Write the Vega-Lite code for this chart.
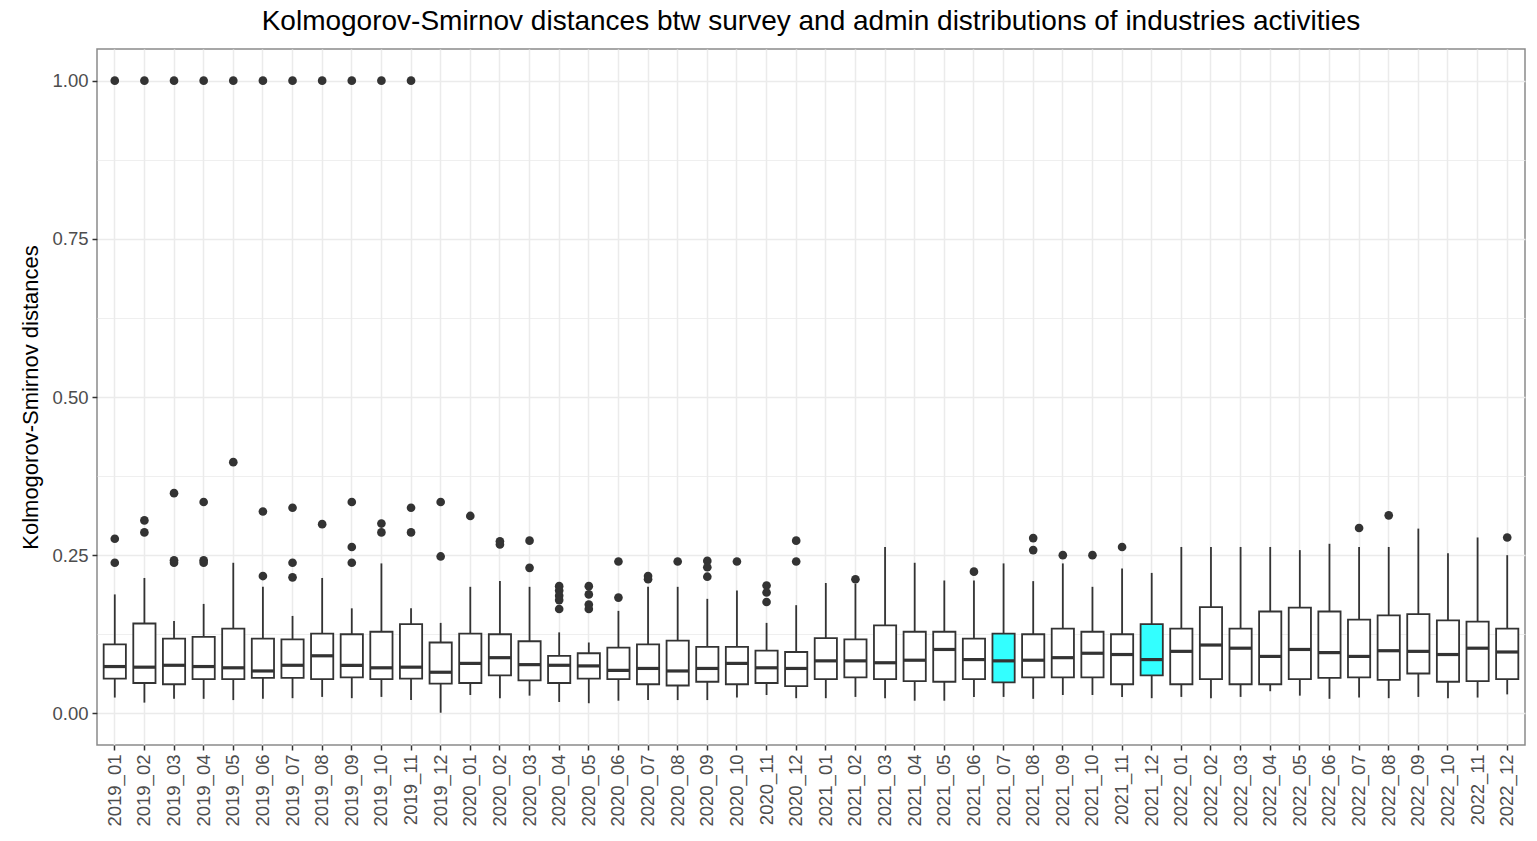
{
  "$schema": "https://vega.github.io/schema/vega-lite/v6.json",
  "width": 1428,
  "height": 696,
  "autosize": {"type": "none"},
  "padding": {"left": 97, "top": 49, "right": 12, "bottom": 96},
  "config": {
    "font": "Liberation Sans",
    "view": {"stroke": "#8a8a8a", "strokeWidth": 1.5},
    "axis": {"domain": false, "gridColor": "#ebebeb", "gridWidth": 1.5, "tickColor": "#333333", "tickWidth": 1.5, "tickSize": 5, "labelColor": "#4d4d4d", "labelFontSize": 18.5, "labelPadding": 4}
  },
  "title": {"text": "Kolmogorov-Smirnov distances btw survey and admin distributions of industries activities", "fontSize": 28, "fontWeight": "normal", "color": "#000000", "anchor": "middle", "offset": 13},
  "datasets": {
    "boxes": [
      {"month": "2019_01", "lo": 0.025, "q1": 0.055, "med": 0.074, "q3": 0.109, "hi": 0.188, "highlight": "no"},
      {"month": "2019_02", "lo": 0.017, "q1": 0.048, "med": 0.073, "q3": 0.142, "hi": 0.214, "highlight": "no"},
      {"month": "2019_03", "lo": 0.023, "q1": 0.046, "med": 0.076, "q3": 0.118, "hi": 0.146, "highlight": "no"},
      {"month": "2019_04", "lo": 0.023, "q1": 0.054, "med": 0.074, "q3": 0.121, "hi": 0.173, "highlight": "no"},
      {"month": "2019_05", "lo": 0.021, "q1": 0.054, "med": 0.072, "q3": 0.134, "hi": 0.238, "highlight": "no"},
      {"month": "2019_06", "lo": 0.023, "q1": 0.056, "med": 0.067, "q3": 0.118, "hi": 0.200, "highlight": "no"},
      {"month": "2019_07", "lo": 0.024, "q1": 0.056, "med": 0.076, "q3": 0.117, "hi": 0.154, "highlight": "no"},
      {"month": "2019_08", "lo": 0.026, "q1": 0.054, "med": 0.091, "q3": 0.126, "hi": 0.214, "highlight": "no"},
      {"month": "2019_09", "lo": 0.024, "q1": 0.057, "med": 0.076, "q3": 0.125, "hi": 0.166, "highlight": "no"},
      {"month": "2019_10", "lo": 0.026, "q1": 0.054, "med": 0.072, "q3": 0.129, "hi": 0.237, "highlight": "no"},
      {"month": "2019_11", "lo": 0.021, "q1": 0.055, "med": 0.073, "q3": 0.141, "hi": 0.166, "highlight": "no"},
      {"month": "2019_12", "lo": 0.001, "q1": 0.047, "med": 0.065, "q3": 0.112, "hi": 0.143, "highlight": "no"},
      {"month": "2020_01", "lo": 0.029, "q1": 0.048, "med": 0.079, "q3": 0.126, "hi": 0.200, "highlight": "no"},
      {"month": "2020_02", "lo": 0.024, "q1": 0.060, "med": 0.088, "q3": 0.125, "hi": 0.209, "highlight": "no"},
      {"month": "2020_03", "lo": 0.028, "q1": 0.052, "med": 0.077, "q3": 0.114, "hi": 0.200, "highlight": "no"},
      {"month": "2020_04", "lo": 0.018, "q1": 0.048, "med": 0.076, "q3": 0.091, "hi": 0.128, "highlight": "no"},
      {"month": "2020_05", "lo": 0.016, "q1": 0.055, "med": 0.075, "q3": 0.095, "hi": 0.112, "highlight": "no"},
      {"month": "2020_06", "lo": 0.020, "q1": 0.054, "med": 0.068, "q3": 0.104, "hi": 0.162, "highlight": "no"},
      {"month": "2020_07", "lo": 0.021, "q1": 0.046, "med": 0.071, "q3": 0.109, "hi": 0.200, "highlight": "no"},
      {"month": "2020_08", "lo": 0.021, "q1": 0.044, "med": 0.067, "q3": 0.115, "hi": 0.200, "highlight": "no"},
      {"month": "2020_09", "lo": 0.021, "q1": 0.050, "med": 0.071, "q3": 0.105, "hi": 0.181, "highlight": "no"},
      {"month": "2020_10", "lo": 0.025, "q1": 0.046, "med": 0.079, "q3": 0.105, "hi": 0.194, "highlight": "no"},
      {"month": "2020_11", "lo": 0.029, "q1": 0.048, "med": 0.072, "q3": 0.099, "hi": 0.143, "highlight": "no"},
      {"month": "2020_12", "lo": 0.024, "q1": 0.043, "med": 0.071, "q3": 0.097, "hi": 0.171, "highlight": "no"},
      {"month": "2021_01", "lo": 0.024, "q1": 0.054, "med": 0.083, "q3": 0.119, "hi": 0.206, "highlight": "no"},
      {"month": "2021_02", "lo": 0.026, "q1": 0.057, "med": 0.083, "q3": 0.117, "hi": 0.205, "highlight": "no"},
      {"month": "2021_03", "lo": 0.024, "q1": 0.054, "med": 0.080, "q3": 0.139, "hi": 0.263, "highlight": "no"},
      {"month": "2021_04", "lo": 0.020, "q1": 0.051, "med": 0.084, "q3": 0.129, "hi": 0.238, "highlight": "no"},
      {"month": "2021_05", "lo": 0.020, "q1": 0.050, "med": 0.101, "q3": 0.129, "hi": 0.210, "highlight": "no"},
      {"month": "2021_06", "lo": 0.026, "q1": 0.054, "med": 0.085, "q3": 0.118, "hi": 0.210, "highlight": "no"},
      {"month": "2021_07", "lo": 0.026, "q1": 0.049, "med": 0.083, "q3": 0.126, "hi": 0.237, "highlight": "yes"},
      {"month": "2021_08", "lo": 0.023, "q1": 0.057, "med": 0.084, "q3": 0.125, "hi": 0.209, "highlight": "no"},
      {"month": "2021_09", "lo": 0.029, "q1": 0.057, "med": 0.088, "q3": 0.134, "hi": 0.237, "highlight": "no"},
      {"month": "2021_10", "lo": 0.029, "q1": 0.057, "med": 0.095, "q3": 0.129, "hi": 0.200, "highlight": "no"},
      {"month": "2021_11", "lo": 0.026, "q1": 0.046, "med": 0.093, "q3": 0.125, "hi": 0.229, "highlight": "no"},
      {"month": "2021_12", "lo": 0.024, "q1": 0.060, "med": 0.085, "q3": 0.141, "hi": 0.222, "highlight": "yes"},
      {"month": "2022_01", "lo": 0.026, "q1": 0.046, "med": 0.098, "q3": 0.134, "hi": 0.263, "highlight": "no"},
      {"month": "2022_02", "lo": 0.024, "q1": 0.054, "med": 0.108, "q3": 0.168, "hi": 0.263, "highlight": "no"},
      {"month": "2022_03", "lo": 0.026, "q1": 0.046, "med": 0.103, "q3": 0.134, "hi": 0.263, "highlight": "no"},
      {"month": "2022_04", "lo": 0.035, "q1": 0.046, "med": 0.090, "q3": 0.161, "hi": 0.263, "highlight": "no"},
      {"month": "2022_05", "lo": 0.028, "q1": 0.054, "med": 0.101, "q3": 0.167, "hi": 0.258, "highlight": "no"},
      {"month": "2022_06", "lo": 0.023, "q1": 0.056, "med": 0.096, "q3": 0.161, "hi": 0.268, "highlight": "no"},
      {"month": "2022_07", "lo": 0.025, "q1": 0.057, "med": 0.090, "q3": 0.148, "hi": 0.263, "highlight": "no"},
      {"month": "2022_08", "lo": 0.024, "q1": 0.053, "med": 0.099, "q3": 0.155, "hi": 0.263, "highlight": "no"},
      {"month": "2022_09", "lo": 0.026, "q1": 0.063, "med": 0.098, "q3": 0.157, "hi": 0.292, "highlight": "no"},
      {"month": "2022_10", "lo": 0.024, "q1": 0.050, "med": 0.093, "q3": 0.147, "hi": 0.253, "highlight": "no"},
      {"month": "2022_11", "lo": 0.025, "q1": 0.051, "med": 0.103, "q3": 0.145, "hi": 0.278, "highlight": "no"},
      {"month": "2022_12", "lo": 0.030, "q1": 0.054, "med": 0.097, "q3": 0.134, "hi": 0.250, "highlight": "no"}
    ],
    "outliers": [
      {"month": "2019_01", "value": 1.0}, {"month": "2019_01", "value": 0.276}, {"month": "2019_01", "value": 0.238},
      {"month": "2019_02", "value": 1.0}, {"month": "2019_02", "value": 0.305}, {"month": "2019_02", "value": 0.286},
      {"month": "2019_03", "value": 1.0}, {"month": "2019_03", "value": 0.348}, {"month": "2019_03", "value": 0.242}, {"month": "2019_03", "value": 0.238},
      {"month": "2019_04", "value": 1.0}, {"month": "2019_04", "value": 0.334}, {"month": "2019_04", "value": 0.242}, {"month": "2019_04", "value": 0.238},
      {"month": "2019_05", "value": 1.0}, {"month": "2019_05", "value": 0.397},
      {"month": "2019_06", "value": 1.0}, {"month": "2019_06", "value": 0.319}, {"month": "2019_06", "value": 0.217},
      {"month": "2019_07", "value": 1.0}, {"month": "2019_07", "value": 0.325}, {"month": "2019_07", "value": 0.238}, {"month": "2019_07", "value": 0.215},
      {"month": "2019_08", "value": 1.0}, {"month": "2019_08", "value": 0.299},
      {"month": "2019_09", "value": 1.0}, {"month": "2019_09", "value": 0.334}, {"month": "2019_09", "value": 0.263}, {"month": "2019_09", "value": 0.238},
      {"month": "2019_10", "value": 1.0}, {"month": "2019_10", "value": 0.300}, {"month": "2019_10", "value": 0.286},
      {"month": "2019_11", "value": 1.0}, {"month": "2019_11", "value": 0.325}, {"month": "2019_11", "value": 0.286},
      {"month": "2019_12", "value": 0.334}, {"month": "2019_12", "value": 0.248},
      {"month": "2020_01", "value": 0.312},
      {"month": "2020_02", "value": 0.272}, {"month": "2020_02", "value": 0.267},
      {"month": "2020_03", "value": 0.273}, {"month": "2020_03", "value": 0.230},
      {"month": "2020_04", "value": 0.201}, {"month": "2020_04", "value": 0.194}, {"month": "2020_04", "value": 0.186}, {"month": "2020_04", "value": 0.179}, {"month": "2020_04", "value": 0.165},
      {"month": "2020_05", "value": 0.201}, {"month": "2020_05", "value": 0.188}, {"month": "2020_05", "value": 0.172}, {"month": "2020_05", "value": 0.165},
      {"month": "2020_06", "value": 0.240}, {"month": "2020_06", "value": 0.183},
      {"month": "2020_07", "value": 0.217}, {"month": "2020_07", "value": 0.212},
      {"month": "2020_08", "value": 0.240},
      {"month": "2020_09", "value": 0.241}, {"month": "2020_09", "value": 0.231}, {"month": "2020_09", "value": 0.216},
      {"month": "2020_10", "value": 0.240},
      {"month": "2020_11", "value": 0.202}, {"month": "2020_11", "value": 0.191}, {"month": "2020_11", "value": 0.176},
      {"month": "2020_12", "value": 0.273}, {"month": "2020_12", "value": 0.240},
      {"month": "2021_02", "value": 0.212},
      {"month": "2021_06", "value": 0.224},
      {"month": "2021_08", "value": 0.277}, {"month": "2021_08", "value": 0.258},
      {"month": "2021_09", "value": 0.250},
      {"month": "2021_10", "value": 0.250},
      {"month": "2021_11", "value": 0.263},
      {"month": "2022_07", "value": 0.293},
      {"month": "2022_08", "value": 0.313},
      {"month": "2022_12", "value": 0.278}
    ]
  },
  "layer": [
    {
      "data": {"name": "boxes"},
      "mark": {"type": "rule", "color": "#333333", "strokeWidth": 1.8},
      "encoding": {
        "x": {"field": "month", "type": "nominal", "sort": null,
          "scale": {"paddingInner": 0, "paddingOuter": 0.1},
          "axis": {"title": null, "labelAngle": -90, "bandPosition": 0.5, "grid": true}},
        "y": {"field": "lo", "type": "quantitative",
          "scale": {"domain": [-0.05, 1.05], "nice": false, "zero": false},
          "axis": {"title": "Kolmogorov-Smirnov distances", "titleFontSize": 22, "titleFontWeight": "normal", "titleColor": "#000000", "titlePadding": 9,
            "values": [0, 0.125, 0.25, 0.375, 0.5, 0.625, 0.75, 0.875, 1],
            "labelExpr": "datum.value % 0.25 == 0 ? format(datum.value, '.2f') : ''",
            "gridWidth": {"condition": {"test": "datum.value % 0.25 != 0", "value": 0.8}, "value": 1.5},
            "tickOpacity": {"condition": {"test": "datum.value % 0.25 != 0", "value": 0}, "value": 1}}},
        "y2": {"field": "hi"}
      }
    },
    {
      "data": {"name": "boxes"},
      "mark": {"type": "bar", "stroke": "#333333", "strokeWidth": 1.8, "width": {"band": 0.75}},
      "encoding": {
        "x": {"field": "month", "type": "nominal", "sort": null},
        "y": {"field": "q1", "type": "quantitative"},
        "y2": {"field": "q3"},
        "fill": {"field": "highlight", "type": "nominal", "scale": {"domain": ["no", "yes"], "range": ["#ffffff", "#33ffff"]}, "legend": null}
      }
    },
    {
      "data": {"name": "boxes"},
      "mark": {"type": "tick", "color": "#333333", "thickness": 3.2, "size": 22, "opacity": 1},
      "encoding": {
        "x": {"field": "month", "type": "nominal", "sort": null},
        "y": {"field": "med", "type": "quantitative"}
      }
    },
    {
      "data": {"name": "outliers"},
      "mark": {"type": "circle", "color": "#333333", "size": 75, "opacity": 1},
      "encoding": {
        "x": {"field": "month", "type": "nominal", "sort": null},
        "y": {"field": "value", "type": "quantitative"}
      }
    }
  ]
}
